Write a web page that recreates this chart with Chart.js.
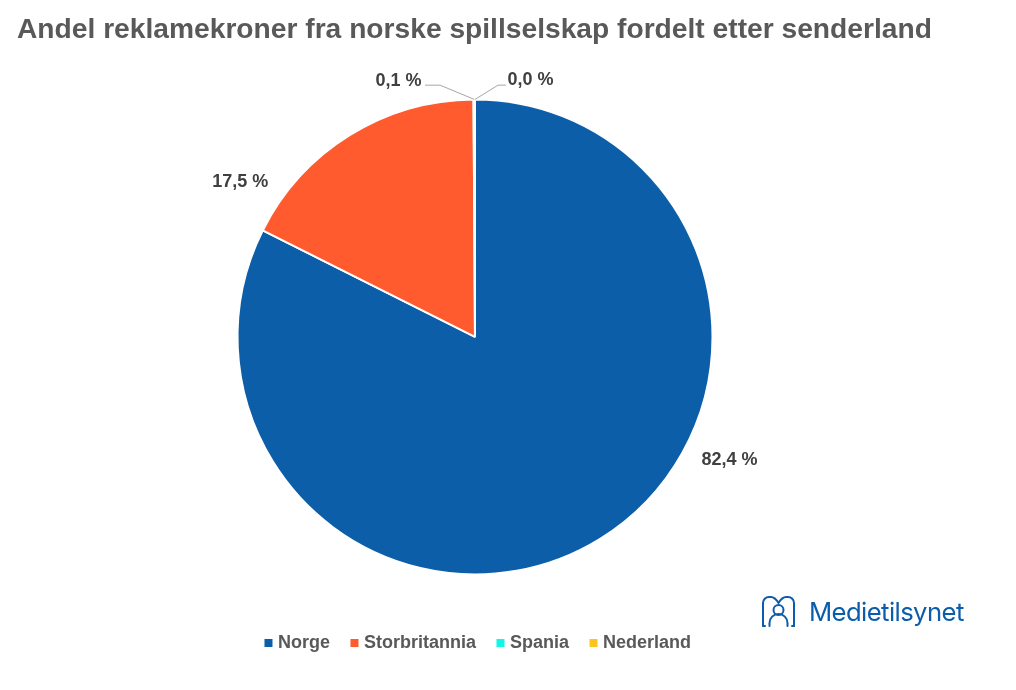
<!DOCTYPE html>
<html><head><meta charset="utf-8">
<style>
html,body{margin:0;padding:0;background:#fff;width:1016px;height:690px;overflow:hidden}
#wrap{position:relative;width:1016px;height:690px}
#logoText{position:absolute;left:809px;top:595px;font:400 25.7px Inter,"Noto Sans",sans-serif;letter-spacing:-0.6px;color:#0b5cab;line-height:34px}
#logo{position:absolute;left:761px;top:595px}
</style></head><body>
<div id="wrap"><canvas id="c" width="1016" height="690"></canvas>
<svg id="logo" width="36" height="34" viewBox="0 0 36 34" fill="none" stroke="#0b5cab" stroke-width="2" stroke-linecap="round" stroke-linejoin="round">
<path d="M2 31V8a6 6 0 0 1 6-6h2c3 0 5 2 7.500 6 2.500-4 4.500-6 7.500-6h2a6 6 0 0 1 6 6v23"/>
<path d="M2 31h2M31 31h2"/>
<circle cx="17.500" cy="15" r="5"/>
<path d="M8.500 31v-3a9 9 0 0 1 18 0v3"/>
</svg>
<div id="logoText">Medietilsynet</div></div>
<script src="https://cdn.jsdelivr.net/npm/chart.js@4"></script>
<script>
const titleText = "Andel reklamekroner fra norske spillselskap fordelt etter senderland";
const categories = ["Norge","Storbritannia","Spania","Nederland"];
const shares = [82.4,17.5,0.1,0.0];
const sliceColors = ["#0c5ea8","#ff5b2e","#0ff8e6","#fcc41e"];
const labelTexts = ["82,4 %","17,5 %","0,1 %","0,0 %"];
// label anchors relative to pie centre, in pie radii
const labelDX = [1.072,-0.988,-0.322,0.234];
const labelDY = [0.520,-0.651,-1.076,-1.080];
// leader lines for the two tiny slices: knee and end, relative to the centre, in radii
const leaders = {2:[[-0.147,-1.06],[-0.21,-1.06]],3:[[0.097,-1.06],[0.13,-1.06]]};

const pieLabels = {
  id:'pieLabels',
  afterLayout(chart){ chart.legend.left += 4.5; chart.legend.right += 4.5; },
  afterDatasetsDraw(chart){
    const ctx = chart.ctx, meta = chart.getDatasetMeta(0);
    const a0 = meta.data[0], cx = a0.x, cy = a0.y, R = a0.outerRadius;
    ctx.save();
    ctx.strokeStyle = "#a6a6a6"; ctx.lineWidth = 1;
    Object.keys(leaders).forEach(i=>{
      const a = meta.data[i], ang = (a.startAngle+a.endAngle)/2;
      ctx.beginPath();
      ctx.moveTo(cx+Math.cos(ang)*R, cy+Math.sin(ang)*R);
      leaders[i].forEach(p=>ctx.lineTo(cx+p[0]*R, cy+p[1]*R));
      ctx.stroke();
    });
    ctx.fillStyle = "#404040";
    ctx.font = 'bold 18px "Liberation Sans"';
    ctx.textAlign = "center"; ctx.textBaseline = "middle";
    labelTexts.forEach((t,i)=>ctx.fillText(t, cx+labelDX[i]*R, cy+labelDY[i]*R));
    ctx.restore();
  }
};
Chart.defaults.animation = false;
new Chart(document.getElementById('c'),{
  type:'pie',
  data:{labels:categories,datasets:[{data:shares,backgroundColor:sliceColors,borderColor:"#ffffff",borderWidth:2}]},
  options:{
    responsive:false,
    rotation:0,
    radius:237.5,
    layout:{padding:{top:13,bottom:28,left:17,right:83}},
    plugins:{
      tooltip:{enabled:false},
      title:{display:true,text:titleText,align:'start',color:"#595959",
        font:{family:'"Liberation Sans"',size:28.2,weight:'bold'},
        padding:{top:0,bottom:17},
      },
      legend:{display:true,position:'bottom',
        labels:{usePointStyle:true,pointStyle:'rect',boxWidth:1,boxHeight:8,padding:24,color:"#595959",
          font:{family:'"Liberation Sans"',size:18,weight:'bold'},
          generateLabels(chart){
            return Chart.overrides.pie.plugins.legend.labels.generateLabels(chart).map(l=>({...l,lineWidth:0,pointStyle:'rect',hidden:false}));
          }
        }
      }
    }
  },
  plugins:[pieLabels]
});
</script></body></html>
